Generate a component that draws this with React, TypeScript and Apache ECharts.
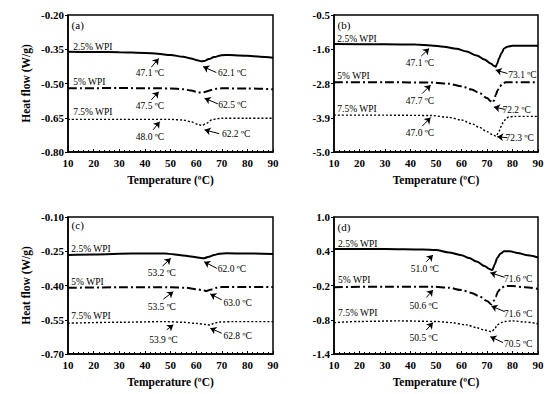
import React, { useEffect, useRef } from "react";
import * as echarts from "echarts";

// ---------- data ----------
const X_MIN = 10;
const X_MAX = 90;
const X_INTERVAL = 10;

const SERIES_NAMES = ["2.5% WPI", "5% WPI", "7.5% WPI"];
const PANEL_TAGS = ["(a)", "(b)", "(c)", "(d)"];

const A_TICKS = ["-0.80", "-0.65", "-0.50", "-0.35", "-0.20"];
const B_TICKS = ["-5.0", "-3.9", "-2.8", "-1.6", "-0.5"];
const C_TICKS = ["-0.70", "-0.55", "-0.40", "-0.25", "-0.10"];
const D_TICKS = ["-1.4", "-0.8", "-0.2", "0.4", "1.0"];

const A25 = [[10,-0.361],[20,-0.362],[30,-0.363],[40,-0.366],[45,-0.370],[50,-0.375],[55,-0.383],[58,-0.390],[60,-0.397],[62,-0.403],[63,-0.402],[65,-0.393],[67,-0.384],[70,-0.376],[73,-0.375],[77,-0.377],[80,-0.379],[85,-0.383],[90,-0.387]];
const A5 = [[10,-0.521],[30,-0.520],[45,-0.521],[50,-0.522],[55,-0.525],[58,-0.531],[61,-0.539],[62.5,-0.540],[64,-0.535],[66,-0.528],[68,-0.523],[70,-0.521],[80,-0.522],[90,-0.525]];
const A75 = [[10,-0.657],[30,-0.657],[50,-0.657],[55,-0.660],[58,-0.668],[61,-0.680],[62.2,-0.684],[64,-0.675],[66,-0.660],[68,-0.654],[70,-0.652],[80,-0.652],[90,-0.652]];

const B25 = [[10,-1.454],[30,-1.46],[42,-1.47],[48,-1.50],[53,-1.54],[58,-1.61],[62,-1.70],[66,-1.83],[69,-1.96],[71.5,-2.09],[72.7,-2.17],[73.4,-2.20],[74,-2.10],[74.7,-1.93],[75.7,-1.75],[76.7,-1.60],[78,-1.54],[80,-1.51],[90,-1.51]];
const B5 = [[10,-2.71],[30,-2.71],[49,-2.72],[55,-2.76],[60,-2.84],[64,-2.95],[67,-3.06],[70,-3.23],[71.5,-3.33],[72.2,-3.38],[72.8,-3.30],[73.4,-3.13],[74.2,-2.97],[75,-2.84],[76.2,-2.75],[77.3,-2.71],[90,-2.71]];
const B75 = [[10,-3.79],[30,-3.79],[48,-3.80],[55,-3.86],[60,-3.95],[64,-4.07],[67,-4.19],[70,-4.33],[72,-4.42],[73.6,-4.48],[74.5,-4.36],[75.5,-4.17],[76.5,-4.00],[77.5,-3.90],[78.5,-3.85],[80.6,-3.83],[90,-3.83]];

const C25 = [[10,-0.266],[20,-0.264],[35,-0.260],[48,-0.260],[51,-0.263],[54,-0.267],[58,-0.273],[62,-0.280],[63,-0.281],[65,-0.274],[67,-0.266],[69,-0.261],[72,-0.259],[80,-0.260],[90,-0.262]];
const C5 = [[10,-0.410],[30,-0.408],[50,-0.408],[56,-0.410],[60,-0.416],[63,-0.422],[64,-0.424],[66,-0.417],[68,-0.410],[70,-0.407],[80,-0.407],[90,-0.407]];
const C75 = [[10,-0.565],[30,-0.561],[48,-0.558],[55,-0.561],[60,-0.566],[64,-0.571],[65.5,-0.573],[67,-0.565],[69,-0.560],[75,-0.558],[90,-0.558]];

const D25 = [[10,0.44],[30,0.44],[45,0.43],[50,0.42],[55,0.38],[60,0.33],[63,0.28],[66,0.22],[69,0.14],[71,0.09],[72.1,0.07],[73,0.17],[74,0.28],[75.3,0.36],[76.7,0.40],[79,0.40],[82,0.37],[86,0.33],[90,0.29]];
const D5 = [[10,-0.23],[30,-0.22],[49,-0.22],[55,-0.24],[60,-0.28],[64,-0.33],[67,-0.39],[70,-0.47],[71.7,-0.53],[72.6,-0.47],[73.4,-0.40],[74.4,-0.30],[75.4,-0.25],[77,-0.21],[80,-0.21],[85,-0.23],[90,-0.26]];
const D75 = [[10,-0.85],[20,-0.83],[35,-0.82],[50,-0.83],[56,-0.85],[62,-0.89],[66,-0.94],[69,-0.98],[71.8,-1.01],[73,-0.96],[74,-0.89],[75.5,-0.85],[77,-0.83],[80,-0.82],[85,-0.84],[90,-0.87]];

// annotations: [text, headX, headY, tailX, tailY, textX, textY]
const A_ANN = [
  [["47.1 ºC",45.4,-0.39,42.5,-0.429,42,-0.455],["62.1 ºC",62.7,-0.426,67.9,-0.452,74.1,-0.455]],
  [["47.5 ºC",45.4,-0.536,42.5,-0.572,42,-0.598],["62.5 ºC",63.3,-0.565,68.5,-0.589,74.2,-0.594]],
  [["48.0 ºC",45.8,-0.667,43.2,-0.703,42,-0.733],["62.2 ºC",63.3,-0.703,69,-0.72,75.6,-0.722]],
];
const B_ANN = [
  [["47.1 ºC",47.3,-1.60,44.2,-1.85,43.7,-2.09],["73.1 ºC",73.4,-2.31,78,-2.42,83.9,-2.47]],
  [["47.7 ºC",47.9,-2.80,44.6,-3.08,43.7,-3.32],["72.2 ºC",72.7,-3.52,77,-3.60,81.6,-3.63]],
  [["47.0 ºC",47.9,-3.87,44.6,-4.15,43.7,-4.39],["72.3 ºC",74,-4.50,78,-4.53,82.8,-4.55]],
];
const C_ANN = [
  [["53.2 ºC",50.1,-0.281,46.9,-0.315,46.6,-0.347],["62.0 ºC",63.1,-0.296,68.1,-0.325,74,-0.326]],
  [["53.5 ºC",51.1,-0.427,47.2,-0.460,46.6,-0.495],["63.0 ºC",65.5,-0.437,70,-0.463,76.2,-0.475]],
  [["53.9 ºC",51.1,-0.572,48.5,-0.594,47.2,-0.638],["62.8 ºC",65.5,-0.587,70,-0.609,76.2,-0.619]],
];
const D_ANN = [
  [["51.0 ºC",48.8,0.335,46.2,0.217,45.6,0.084],["71.6 ºC",71.3,0.025,76.9,-0.056,82.2,-0.09]],
  [["50.6 ºC",48.8,-0.278,46.2,-0.41,45.2,-0.553],["71.6 ºC",71.7,-0.559,76.9,-0.658,82.2,-0.70]],
  [["50.5 ºC",48.8,-0.85,46.2,-0.98,45.2,-1.125],["70.5 ºC",71.3,-1.096,76.3,-1.20,82.2,-1.224]],
];

// series name label anchors (left edge x, centre y)
const A_NAME_POS = [[12,-0.34],[12,-0.492],[12,-0.623]];
const B_NAME_POS = [[11.3,-1.28],[11.3,-2.49],[11.3,-3.58]];
const C_NAME_POS = [[11.3,-0.242],[11.3,-0.383],[11.3,-0.533]];
const D_NAME_POS = [[11.6,0.527],[11.6,-0.10],[11.6,-0.687]];
const TAG_POS = [[11.4,-0.244],[11.4,-0.83],[11.4,-0.136],[11.4,0.83]];

// ---------- layout / style ----------
const FONT = "'Liberation Serif', 'Times New Roman', serif";
const GRIDS = [
  { left: 68, top: 15, width: 205, height: 137 },
  { left: 334, top: 15, width: 204, height: 137 },
  { left: 68, top: 217, width: 205, height: 137 },
  { left: 334, top: 217, width: 204, height: 137 },
];
const LINE_STYLES = [
  { width: 2, type: "solid" },
  { width: 2, type: [9, 3, 2, 3] },
  { width: 1.4, type: [2, 2] },
];

const PANELS = [
  { curves: [A25, A5, A75], ticks: A_TICKS, min: -0.8, max: -0.2, interval: 0.15, ann: A_ANN, names: A_NAME_POS, yName: "Heat flow (W/g)" },
  { curves: [B25, B5, B75], ticks: B_TICKS, min: -5.0, max: -0.5, interval: 1.125, ann: B_ANN, names: B_NAME_POS, yName: "" },
  { curves: [C25, C5, C75], ticks: C_TICKS, min: -0.7, max: -0.1, interval: 0.15, ann: C_ANN, names: C_NAME_POS, yName: "Heat flow (W/g)" },
  { curves: [D25, D5, D75], ticks: D_TICKS, min: -1.4, max: 1.0, interval: 0.6, ann: D_ANN, names: D_NAME_POS, yName: "" },
];

function buildOption() {
  const grid: any[] = [];
  const xAxis: any[] = [];
  const yAxis: any[] = [];
  const series: any[] = [];

  PANELS.forEach((p, i) => {
    grid.push({ ...GRIDS[i], show: true, borderColor: "#000", borderWidth: 1.5, backgroundColor: "transparent" });
    xAxis.push({
      type: "value", gridIndex: i, min: X_MIN, max: X_MAX, interval: X_INTERVAL,
      axisLine: { show: true, onZero: false, lineStyle: { color: "#000", width: 1.5 } },
      axisTick: { show: true, inside: true, length: 3, lineStyle: { color: "#000", width: 1 } },
      minorTick: { show: true, splitNumber: 5, length: 2, lineStyle: { color: "#000", width: 1 } },
      splitLine: { show: false },
      axisLabel: { color: "#000", fontFamily: FONT, fontWeight: "bold", fontSize: 11, margin: 5 },
      name: "Temperature (ºC)", nameLocation: "middle", nameGap: 22,
      nameTextStyle: { color: "#000", fontFamily: FONT, fontWeight: "bold", fontSize: 11.5 },
    });
    yAxis.push({
      type: "value", gridIndex: i, min: p.min, max: p.max, interval: p.interval,
      axisLine: { show: true, onZero: false, lineStyle: { color: "#000", width: 1.5 } },
      axisTick: { show: true, inside: false, length: 3, lineStyle: { color: "#000", width: 1 } },
      splitLine: { show: false },
      axisLabel: {
        color: "#000", fontFamily: FONT, fontWeight: "bold", fontSize: 11, margin: 4,
        formatter: (v: number) => p.ticks[Math.round((v - p.min) / p.interval)] ?? "",
      },
      name: p.yName, nameLocation: "middle", nameGap: 36,
      nameTextStyle: { color: "#000", fontFamily: FONT, fontWeight: "bold", fontSize: 11.5 },
    });

    p.curves.forEach((c, k) => {
      const ann = p.ann[k] as any[];
      const points: any[] = ann.map((a) => ({ name: a[0], coord: [a[5], a[6]] }));
      points.push({ name: SERIES_NAMES[k], coord: p.names[k], label: { align: "left" } });
      if (k === 0) points.push({ name: PANEL_TAGS[i], coord: TAG_POS[i], label: { align: "left", fontSize: 11 } });
      series.push({
        type: "line", name: SERIES_NAMES[k], xAxisIndex: i, yAxisIndex: i,
        data: c, symbol: "none", showSymbol: false, smooth: 0.3, smoothMonotone: "x",
        silent: true,
        lineStyle: { color: "#000", width: LINE_STYLES[k].width, type: LINE_STYLES[k].type },
        markLine: {
          silent: true, symbol: ["none", "arrow"], symbolSize: 6,
          lineStyle: { color: "#000", width: 1, type: "solid" },
          label: { show: false },
          data: ann.map((a) => [{ coord: [a[3], a[4]] }, { coord: [a[1], a[2]] }]),
        },
        markPoint: {
          silent: true, symbol: "circle", symbolSize: 0,
          itemStyle: { color: "transparent" },
          label: { show: true, position: "inside", color: "#000", fontFamily: FONT, fontSize: 9.5, formatter: "{b}" },
          data: points,
        },
      });
    });
  });

  return { animation: false, backgroundColor: "#fff", grid, xAxis, yAxis, series };
}

export default function App() {
  const ref = useRef<HTMLDivElement>(null);
  useEffect(() => {
    if (!ref.current) return;
    const chart = echarts.init(ref.current, null, { renderer: "svg" });
    chart.setOption(buildOption() as any);
    return () => chart.dispose();
  }, []);
  return <div ref={ref} style={{ position: "absolute", left: 0, top: 0, width: 550, height: 394 }} />;
}
